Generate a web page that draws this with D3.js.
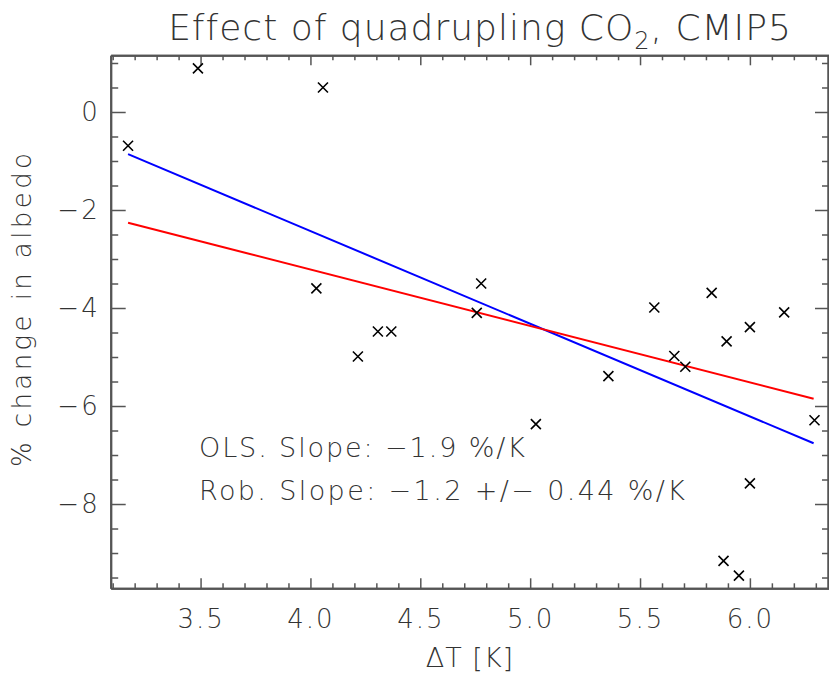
<!DOCTYPE html>
<html>
<head>
<meta charset="utf-8">
<script src="https://cdn.jsdelivr.net/npm/d3@7"></script>
<style>
  body { margin: 0; background: #fff; }
  svg text { font-family: "DejaVu Sans", sans-serif; font-weight: 200; fill: #333; }
</style>
</head>
<body>
<svg id="chart" width="829" height="677"></svg>
<script>
// warming per model [K] and albedo change [%]
const dT = [3.17, 3.488, 4.057, 4.027, 4.216, 4.307, 4.368, 4.757, 4.777, 5.026, 5.356,
            5.565, 5.656, 5.706, 5.826, 5.88, 5.894, 5.95, 6.0, 6.0, 6.156, 6.294];
const dAlbedo = [-0.69, 0.89, 0.50, -3.60, -4.99, -4.48, -4.48, -4.10, -3.50, -6.37, -5.39,
                 -3.99, -4.98, -5.20, -3.69, -9.16, -4.68, -9.46, -4.39, -7.58, -4.09, -6.29];

// fit lines, endpoints
const olsLine = [[3.17, -0.86], [6.29, -6.76]];
const robLine = [[3.17, -2.26], [6.29, -5.85]];

const xMajor = [3.5, 4.0, 4.5, 5.0, 5.5, 6.0];
const yMajor = [-8, -6, -4, -2, 0];

const svg = d3.select("#chart");

const x = d3.scaleLinear().domain([3.091, 6.36]).range([110.7, 829]);
const y = d3.scaleLinear().domain([-9.72, 1.157]).range([588.3, 55.3]);

const xMinor = d3.range(3.1, 6.36, 0.1).map(v => +v.toFixed(1)).filter(v => !xMajor.includes(v));
const yMinor = d3.range(-9.5, 1.2, 0.5).filter(v => !yMajor.includes(v));

const axisCol = "#555";

function styleAxis(sel) {
    sel.select(".domain").attr("stroke", axisCol).attr("stroke-width", 2);
    sel.selectAll(".tick line").attr("stroke", axisCol).attr("stroke-width", 1.5);
    sel.selectAll("text")
        .attr("font-family", "DejaVu Sans, sans-serif")
        .attr("font-weight", 200)
        .attr("font-size", 26)
        .attr("letter-spacing", 2)
        .attr("fill", "#333");
}

// bottom
svg.append("g").attr("transform", `translate(0,${y.range()[0]})`)
    .call(d3.axisBottom(x).tickValues(xMinor).tickSize(-5).tickSizeOuter(0).tickFormat(""))
    .call(styleAxis);
svg.append("g").attr("transform", `translate(0,${y.range()[0]})`)
    .call(d3.axisBottom(x).tickValues(xMajor).tickSize(-10).tickSizeOuter(0)
        .tickPadding(21).tickFormat(d3.format(".1f")))
    .call(styleAxis);

// top
svg.append("g").attr("transform", `translate(0,${y.range()[1]})`)
    .call(d3.axisTop(x).tickValues(xMinor).tickSize(-5).tickSizeOuter(0).tickFormat(""))
    .call(styleAxis);
svg.append("g").attr("transform", `translate(0,${y.range()[1]})`)
    .call(d3.axisTop(x).tickValues(xMajor).tickSize(-10).tickSizeOuter(0).tickFormat(""))
    .call(styleAxis);

// left
svg.append("g").attr("transform", `translate(${x.range()[0]},0)`)
    .call(d3.axisLeft(y).tickValues(yMinor).tickSize(-7.5).tickSizeOuter(0).tickFormat(""))
    .call(styleAxis);
svg.append("g").attr("transform", `translate(${x.range()[0]},0)`)
    .call(d3.axisLeft(y).tickValues(yMajor).tickSize(-15).tickSizeOuter(0)
        .tickPadding(11).tickFormat(d3.format("d")))
    .call(styleAxis);

// right
svg.append("g").attr("transform", `translate(${x.range()[1] - 1},0)`)
    .call(d3.axisRight(y).tickValues(yMinor).tickSize(-6).tickSizeOuter(0).tickFormat(""))
    .call(styleAxis);
svg.append("g").attr("transform", `translate(${x.range()[1] - 1},0)`)
    .call(d3.axisRight(y).tickValues(yMajor).tickSize(-13).tickSizeOuter(0).tickFormat(""))
    .call(styleAxis);

// fit lines
const line = d3.line().x(d => x(d[0])).y(d => y(d[1]));
svg.append("path").datum(olsLine).attr("d", line)
    .attr("fill", "none").attr("stroke", "#0000ff").attr("stroke-width", 2);
svg.append("path").datum(robLine).attr("d", line)
    .attr("fill", "none").attr("stroke", "#ff0000").attr("stroke-width", 2);

// crosses
const pts = dT.map((d, i) => ({ x: d, y: dAlbedo[i] }));
const s = 5;
svg.append("g").selectAll("path")
    .data(pts)
    .enter()
    .append("path")
    .attr("d", d => {
        const px = x(d.x), py = y(d.y);
        return `M${px - s},${py - s}L${px + s},${py + s}M${px - s},${py + s}L${px + s},${py - s}`;
    })
    .attr("stroke", "#000")
    .attr("stroke-width", 1.6);

// title
const title = svg.append("text")
    .attr("x", 480).attr("y", 40)
    .attr("text-anchor", "middle")
    .attr("font-size", 36)
    .attr("letter-spacing", 1);
title.append("tspan").text("Effect of quadrupling CO");
title.append("tspan").attr("font-size", 24).attr("dy", 9).text("2");
title.append("tspan").attr("dy", -9).text(", CMIP5");

// axis labels
svg.append("text")
    .attr("x", 470).attr("y", 667)
    .attr("text-anchor", "middle")
    .attr("font-size", 27)
    .attr("letter-spacing", 1)
    .text("ΔT [K]");

svg.append("text")
    .attr("transform", "translate(31,467) rotate(-90)")
    .attr("font-size", 26)
    .attr("textLength", 314)
    .attr("lengthAdjust", "spacing")
    .text("% change in albedo");

// slope notes
svg.append("text").attr("x", 199).attr("y", 457).attr("font-size", 27)
    .attr("textLength", 326).attr("lengthAdjust", "spacing")
    .text("OLS. Slope: \u22121.9 %/K");
svg.append("text").attr("x", 199).attr("y", 500).attr("font-size", 27)
    .attr("textLength", 486).attr("lengthAdjust", "spacing")
    .text("Rob. Slope: \u22121.2 +/\u2212 0.44 %/K");
</script>
</body>
</html>
